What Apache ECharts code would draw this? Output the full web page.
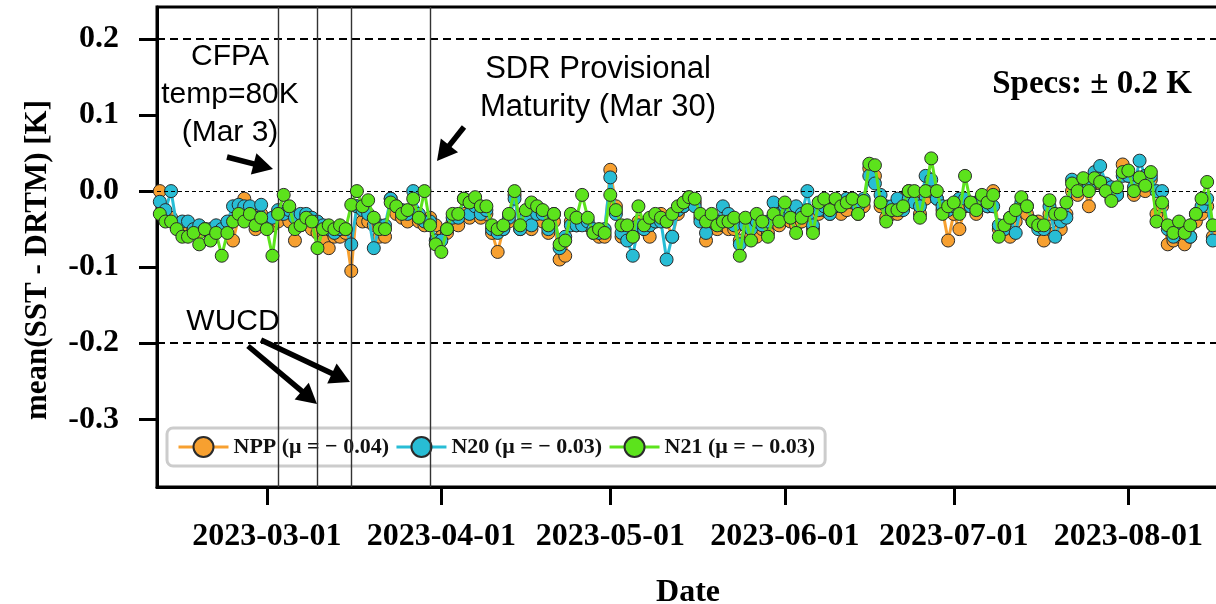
<!DOCTYPE html>
<html lang="en">
  <head>
    <meta charset="UTF-8" />
    <title>SST - DRTM</title>
    <script src="https://cdn.jsdelivr.net/npm/echarts@6/dist/echarts.min.js"></script>
    <style>
      * {
        padding: 0;
        margin: 0;
      }
      body {
        background: #ffffff;
      }
      #main {
        width: 1216px;
        height: 604px;
      }
    </style>
  </head>
  <body>
    <div id="main"></div>
    <script>
      // daily values, first day 2023-02-10
      var startDay = [2023, 1, 10];
      var nppValues = [
        0.0, -0.03, -0.035, -0.045, -0.05, -0.045, -0.05, -0.055, -0.05, -0.055,
        -0.05, -0.05, -0.045, -0.065, -0.035, -0.01, -0.025, -0.05, -0.03, -0.045,
        -0.045, -0.04, -0.03, -0.04, -0.065, -0.045, -0.04, -0.05, -0.055, -0.065,
        -0.075, -0.06, -0.06, -0.055, -0.105, -0.02, -0.04, -0.04, -0.045, -0.06,
        -0.06, -0.01, -0.03, -0.035, -0.04, -0.025, -0.04, -0.045, -0.035, -0.045,
        -0.06, -0.055, -0.04, -0.045, -0.03, -0.035, -0.025, -0.035, -0.03, -0.055,
        -0.08, -0.05, -0.04, -0.005, -0.05, -0.04, -0.05, -0.035, -0.04, -0.055,
        -0.04, -0.09, -0.085, -0.04, -0.045, -0.04, -0.045, -0.055, -0.06, -0.06,
        0.028, -0.02, -0.06, -0.055, -0.06, -0.04, -0.05, -0.06, -0.04, -0.03,
        -0.04, -0.06, -0.03, -0.02, -0.008, -0.015, -0.035, -0.065, -0.04, -0.05,
        -0.045, -0.05, -0.05, -0.065, -0.045, -0.06, -0.06, -0.05, -0.055, -0.04,
        -0.045, -0.03, -0.04, -0.045, -0.04, -0.03, -0.05, -0.03, -0.025, -0.03,
        -0.02, -0.03, -0.025, -0.015, -0.03, -0.02, 0.03, 0.02, -0.02, -0.035,
        -0.03, -0.03, -0.01, 0.0, -0.005, -0.03, -0.01, 0.0, -0.01, -0.025,
        -0.065, -0.03, -0.05, -0.02, -0.02, -0.03, -0.015, -0.02, 0.0, -0.05,
        -0.05, -0.06, -0.04, -0.025, -0.03, -0.04, -0.04, -0.065, -0.03, -0.055,
        -0.05, -0.03, 0.0, -0.005, 0.01, -0.02, 0.01, 0.01, 0.0, -0.01,
        -0.005, 0.035, 0.02, -0.005, 0.01, 0.0, 0.015, -0.03, -0.02, -0.07,
        -0.065, -0.06, -0.07, -0.06, -0.04, -0.03, -0.02, -0.06
      ];
      var n20Values = [
        -0.014, -0.025, 0.0, -0.045, -0.04, -0.04, -0.05, -0.045, -0.05, -0.05,
        -0.045, -0.05, -0.04, -0.02, -0.018, -0.02, -0.02, -0.035, -0.018, -0.04,
        -0.035, -0.025, -0.03, -0.025, -0.035, -0.03, -0.03, -0.035, -0.04, -0.045,
        -0.05, -0.055, -0.05, -0.05, -0.07, -0.02, -0.025, -0.03, -0.075, -0.045,
        -0.045, -0.01, -0.02, -0.025, -0.03, 0.0, -0.03, -0.04, -0.04, -0.065,
        -0.065, -0.05, -0.035, -0.035, -0.01, -0.03, -0.02, -0.03, -0.025, -0.05,
        -0.055, -0.05, -0.035, -0.01, -0.05, -0.035, -0.045, -0.03, -0.03, -0.05,
        -0.03, -0.075, -0.06, -0.045, -0.045, -0.045, -0.04, -0.05, -0.055, -0.05,
        0.018, -0.03, -0.055, -0.065, -0.085, -0.045, -0.05, -0.045, -0.04, -0.04,
        -0.09, -0.06, -0.025, -0.02, -0.01, -0.02, -0.04, -0.055, -0.035, -0.04,
        -0.02, -0.03, -0.045, -0.07, -0.045, -0.05, -0.04, -0.045, -0.04, -0.015,
        -0.03, -0.02, -0.03, -0.02, -0.03, 0.0, -0.045, -0.025, -0.02, -0.03,
        -0.02, -0.015, -0.01, -0.01, -0.02, -0.01, 0.02, 0.01, -0.005, -0.02,
        -0.02, -0.01, -0.025, -0.01, -0.015, -0.02, 0.02, 0.015, -0.01, -0.02,
        -0.025, -0.02, -0.01, -0.01, -0.02, -0.015, -0.01, -0.02, -0.02, -0.045,
        -0.05, -0.035, -0.055, -0.015, -0.02, -0.04, -0.05, -0.05, -0.02, -0.06,
        -0.04, -0.035, 0.015, 0.005, 0.015, 0.005, 0.025, 0.033, 0.01, 0.005,
        -0.005, 0.02, 0.02, 0.005, 0.04, 0.02, 0.02, 0.0, 0.0, -0.05,
        -0.06, -0.05, -0.055, -0.06, -0.03, -0.02, -0.01, -0.065
      ];
      var n21Values = [
        -0.03, -0.04, -0.04, -0.05, -0.06, -0.06, -0.055, -0.07, -0.05, -0.065,
        -0.055, -0.085, -0.055, -0.04, -0.03, -0.04, -0.03, -0.045, -0.035, -0.05,
        -0.085, -0.03, -0.005, -0.02, -0.05, -0.045, -0.035, -0.04, -0.075, -0.05,
        -0.045, -0.05, -0.045, -0.05, -0.018, 0.0, -0.02, -0.012, -0.035, -0.05,
        -0.05, -0.015, -0.02, -0.03, -0.025, -0.01, -0.035, 0.0, -0.045, -0.07,
        -0.08, -0.05, -0.03, -0.03, -0.01, -0.015, -0.008, -0.02, -0.02, -0.045,
        -0.05, -0.045, -0.03, 0.0, -0.045, -0.025, -0.015, -0.02, -0.025, -0.045,
        -0.03, -0.07, -0.065, -0.03, -0.035, -0.005, -0.035, -0.055, -0.05, -0.055,
        -0.005, -0.025, -0.045, -0.045, -0.06, -0.02, -0.045, -0.035, -0.03, -0.035,
        -0.04, -0.03, -0.02, -0.015, -0.008, -0.01, -0.03, -0.04, -0.03, -0.045,
        -0.04, -0.04, -0.035, -0.085, -0.035, -0.065, -0.03, -0.04, -0.06, -0.03,
        -0.04, -0.015, -0.035, -0.055, -0.035, -0.025, -0.055, -0.015, -0.01, -0.025,
        -0.01, -0.02, -0.015, -0.01, -0.03, -0.013, 0.036, 0.034, -0.015, -0.04,
        -0.025, -0.025, -0.02, 0.0, 0.0, -0.035, 0.0, 0.043, 0.0, -0.03,
        -0.02, -0.015, -0.03, 0.02, -0.015, -0.025, -0.005, -0.015, -0.005, -0.06,
        -0.045, -0.035, -0.025, -0.008, -0.02, -0.04, -0.045, -0.045, -0.012, -0.03,
        -0.03, -0.015, 0.01, 0.0, 0.017, 0.0, 0.017, 0.012, 0.0, -0.013,
        0.005, 0.025, 0.027, 0.0, 0.018, 0.007, 0.025, -0.04, -0.015, -0.045,
        -0.055, -0.04, -0.055, -0.045, -0.03, -0.01, 0.012, -0.045
      ];
      var seriesNames = ["NPP", "N20", "N21"];
      var seriesMeans = ["\u2212 0.04", "\u2212 0.03", "\u2212 0.03"];
      var seriesColors = ["#f7a030", "#28bdd5", "#5ce31c"];
      var monthTicks = [
        [2023, 2, 1],
        [2023, 3, 1],
        [2023, 4, 1],
        [2023, 5, 1],
        [2023, 6, 1],
        [2023, 7, 1]
      ];
      var yTicks = [-0.3, -0.2, -0.1, 0.0, 0.1, 0.2];
      var specLimits = [0.2, -0.2];
      // CFPA, WUCD, WUCD, SDR provisional
      var eventDays = [
        [2023, 2, 3],
        [2023, 2, 10],
        [2023, 2, 16],
        [2023, 2, 30]
      ];

      var DAY = 86400000;
      function utc(d) {
        return Date.UTC(d[0], d[1], d[2]);
      }
      function pad(n) {
        return (n < 10 ? "0" : "") + n;
      }
      function fmtDate(v) {
        var d = new Date(v);
        return d.getUTCFullYear() + "-" + pad(d.getUTCMonth() + 1) + "-" + pad(d.getUTCDate());
      }
      var t0 = utc(startDay);
      function toPairs(arr) {
        return arr.map(function (v, i) {
          return [t0 + i * DAY, v];
        });
      }
      var xMin = t0 - 0.5 * DAY;
      var xMax = xMin + 191.8 * DAY;

      var serif = "Liberation Serif";
      var sans = "Liberation Sans";

      var myChart = echarts.init(document.getElementById("main"));

      function arrow(x1, y1, x2, y2) {
        var dx = x2 - x1,
          dy = y2 - y1;
        var len = Math.sqrt(dx * dx + dy * dy);
        var ux = dx / len,
          uy = dy / len;
        var hl = 20,
          hw = 11;
        var bx = x2 - ux * hl,
          by = y2 - uy * hl;
        return [
          {
            type: "line",
            shape: { x1: x1, y1: y1, x2: bx + ux * 2, y2: by + uy * 2 },
            style: { stroke: "#000", lineWidth: 5.5 },
            z: 100
          },
          {
            type: "polygon",
            shape: {
              points: [
                [x2, y2],
                [bx - uy * hw, by + ux * hw],
                [bx + uy * hw, by - ux * hw]
              ]
            },
            style: { fill: "#000" },
            z: 100
          }
        ];
      }

      function annotText(txt, x, y, font) {
        return {
          type: "text",
          x: x,
          y: y,
          z: 100,
          style: {
            text: txt,
            font: font,
            fill: "#000",
            align: "center",
            verticalAlign: "middle",
            lineHeight: 38
          }
        };
      }

      var graphics = []
        .concat([
          annotText("CFPA\ntemp=80K\n(Mar 3)", 230, 95, "30px " + sans),
          annotText("SDR Provisional\nMaturity (Mar 30)", 598, 88, "31px " + sans),
          annotText("WUCD", 233, 322, "30px " + sans),
          annotText("Specs: \u00b1 0.2 K", 1092, 84, "bold 33px " + serif)
        ])
        .concat(arrow(227, 157, 273, 169))
        .concat(arrow(464, 127, 437, 161))
        .concat(arrow(248, 346, 317, 404))
        .concat(arrow(261, 340, 350, 382));

      var seriesList = [nppValues, n20Values, n21Values].map(function (vals, k) {
        var s = {
          name: seriesNames[k],
          type: "line",
          data: toPairs(vals),
          symbol: "circle",
          symbolSize: 13,
          showAllSymbol: true,
          z: 3 + k,
          lineStyle: { color: seriesColors[k], width: 3 },
          itemStyle: {
            color: seriesColors[k],
            borderColor: "#2b2b2b",
            borderWidth: 1
          },
          emphasis: { disabled: true }
        };
        if (k === 0) {
          s.markLine = {
            silent: true,
            symbol: "none",
            label: { show: false },
            data: specLimits
              .map(function (v) {
                return {
                  yAxis: v,
                  lineStyle: { color: "#000", width: 1.8, type: [8, 5] }
                };
              })
              .concat([
                { yAxis: 0, lineStyle: { color: "#000", width: 1.1, type: [4, 3] } }
              ])
              .concat(
                eventDays.map(function (d) {
                  return {
                    xAxis: utc(d),
                    lineStyle: { color: "#333", width: 1.4, type: "solid" }
                  };
                })
              )
          };
        }
        return s;
      });

      var option = {
        backgroundColor: "#ffffff",
        animation: false,
        grid: {
          left: 157,
          top: 7,
          width: 1080,
          height: 480,
          outerBoundsMode: "none",
          containLabel: false,
          show: true,
          borderColor: "#000",
          borderWidth: 3,
          backgroundColor: "transparent"
        },
        legend: {
          left: 167,
          top: 428,
          orient: "horizontal",
          itemWidth: 50,
          itemHeight: 25,
          itemGap: 6,
          padding: [8, 10, 8, 10],
          backgroundColor: "rgba(255,255,255,0.8)",
          borderColor: "#cccccc",
          borderWidth: 3,
          borderRadius: 6,
          lineStyle: { width: 3 },
          data: seriesNames,
          formatter: function (name) {
            var i = seriesNames.indexOf(name);
            return name + " (\u03bc = " + seriesMeans[i] + ")";
          },
          textStyle: {
            fontFamily: serif,
            fontWeight: "bold",
            fontSize: 22,
            color: "#111"
          }
        },
        xAxis: {
          type: "value",
          min: xMin,
          max: xMax,
          name: "Date",
          nameLocation: "middle",
          nameGap: 90,
          nameTextStyle: {
            fontFamily: serif,
            fontWeight: "bold",
            fontSize: 32,
            color: "#000",
            padding: [0, 18, 0, 0]
          },
          axisLine: { show: true, onZero: false, lineStyle: { color: "#000", width: 3 } },
          axisTick: {
            show: true,
            length: 18,
            lineStyle: { color: "#000", width: 3 },
            customValues: monthTicks.map(utc)
          },
          axisLabel: {
            margin: 34,
            fontFamily: serif,
            fontWeight: "bold",
            fontSize: 32,
            color: "#000",
            customValues: monthTicks.map(utc),
            formatter: fmtDate
          },
          splitLine: { show: false }
        },
        yAxis: {
          type: "value",
          min: -0.389,
          max: 0.242,
          name: "mean(SST - DRTM) [K]",
          nameLocation: "middle",
          nameRotate: 90,
          nameGap: 104,
          nameTextStyle: {
            fontFamily: serif,
            fontWeight: "bold",
            fontSize: 31,
            color: "#000",
            padding: [0, 26, 0, 0]
          },
          axisLine: { show: true, onZero: false, lineStyle: { color: "#000", width: 3 } },
          axisTick: {
            show: true,
            length: 18,
            lineStyle: { color: "#000", width: 3 },
            customValues: yTicks
          },
          axisLabel: {
            margin: 38,
            fontFamily: serif,
            fontWeight: "bold",
            fontSize: 32,
            color: "#000",
            customValues: yTicks,
            formatter: function (v) {
              return v.toFixed(1);
            }
          },
          splitLine: { show: false }
        },
        tooltip: { show: false },
        series: seriesList,
        graphic: graphics
      };
      myChart.setOption(option);
    </script>
  </body>
</html>
